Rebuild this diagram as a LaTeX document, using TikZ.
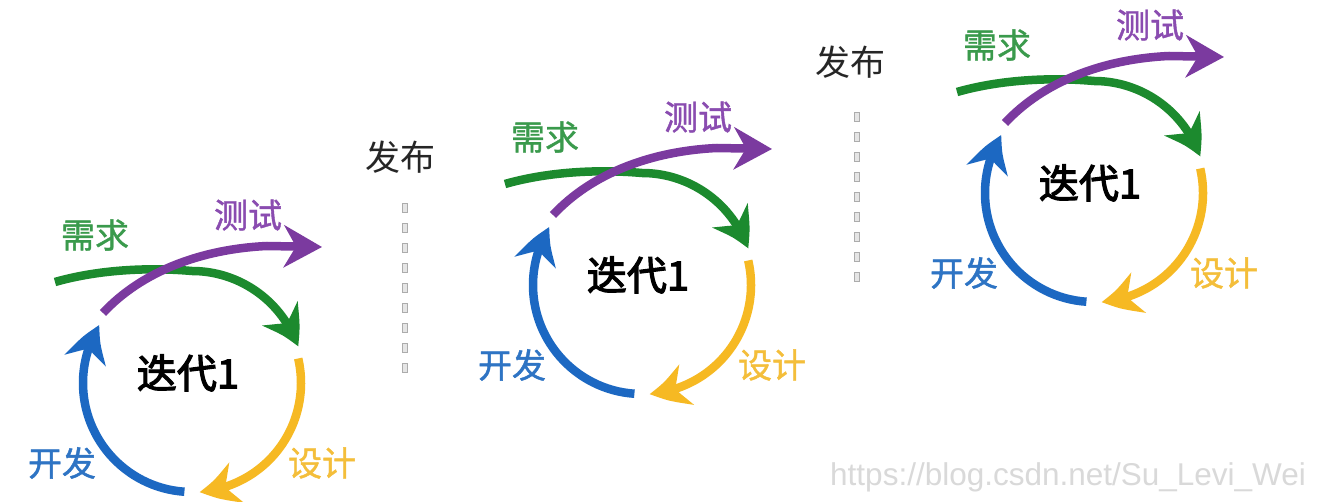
\documentclass[tikz,border=0pt]{standalone}
\usepackage{fontspec}
\setmainfont{Liberation Sans}
\newfontfamily\cjk[FakeBold=1.2]{Noto Sans CJK SC}
\newfontfamily\cjkb[FakeBold=3]{Noto Sans CJK SC}
\newfontfamily\cjkn{Noto Sans CJK SC}
\usetikzlibrary{arrows.meta,bending}
\definecolor{cgreen}{HTML}{1C8A2E}
\definecolor{cpurple}{HTML}{7B3A9F}
\definecolor{cyellow}{HTML}{F6B923}
\definecolor{cblue}{HTML}{1C68C2}
\definecolor{lgreen}{HTML}{3A9A4C}
\definecolor{lpurple}{HTML}{8A4CB0}
\definecolor{lyellow}{HTML}{F4BE3A}
\definecolor{lblue}{HTML}{2E74C4}
\tikzset{
  arr/.style={line width=8.5pt, -{Stealth[length=38pt,width=42pt,inset=12pt,bend]}},
  lab/.style={font=\cjk\fontsize{34}{34}\selectfont, inner sep=0pt},
  iterlab/.style={font=\cjkb\fontsize{40}{40}\selectfont, inner sep=0pt},
  publab/.style={font=\cjkn\fontsize{35}{35}\selectfont, text=black!85, inner sep=0pt},
  dotbox/.style={draw=gray!65, fill=gray!20, line width=0.8pt, minimum width=5pt, minimum height=9pt, inner sep=0pt},
}
\newcommand\itercycle[3]{%
\begin{scope}[shift={(#1,#2)}]
  \draw[arr,cgreen] (-137,101) .. controls (-95,113) and (-45,116) .. (0,112)
     arc[start angle=90,end angle=19,radius=112];
  \draw[arr,cpurple] (-89,70) .. controls (-50,112) and (10,134) .. (75,137) -- (130,136);
  \draw[arr,cyellow] (13:109) arc[start angle=13,end angle=-86,radius=109];
  \draw[arr,cblue] (-94:109) arc[start angle=-94,end angle=-212,radius=109];
  \node[lab,text=lgreen]  (#3req) at (-97,148) {需求};
  \node[lab,text=lpurple] (#3tst) at (56,168) {测试};
  \node[lab,text=lyellow] (#3des) at (130,-80) {设计};
  \node[lab,text=lblue]   (#3dev) at (-130,-80) {开发};
  \node[iterlab] (#3it) at (-4,10) {迭代1};
\end{scope}}
\begin{document}
\begin{tikzpicture}[x=1pt,y=1pt]
\useasboundingbox (0,-502) rectangle (1324,0);
\fill[white] (0,-502) rectangle (1324,0);
% watermark
\node[anchor=base west, inner sep=0pt, text=black!15, font=\fontsize{31.5}{31.5}\selectfont] (wm) at (830,-485) {https://blog.csdn.net/Su\_Levi\_Wei};
% cycles
\itercycle{192}{-383}{a}
\itercycle{642}{-285}{b}
\itercycle{1094}{-193}{c}
% release labels
\node[publab] (pub1) at (400,-157) {发布};
\node[publab] (pub2) at (850,-62) {发布};
\foreach \k in {0,...,8} {
  \node[dotbox] (d1\k) at (405,{-208-20*\k}) {};
  \node[dotbox] (d2\k) at (857,{-117-20*\k}) {};
}
\end{tikzpicture}
\end{document}
